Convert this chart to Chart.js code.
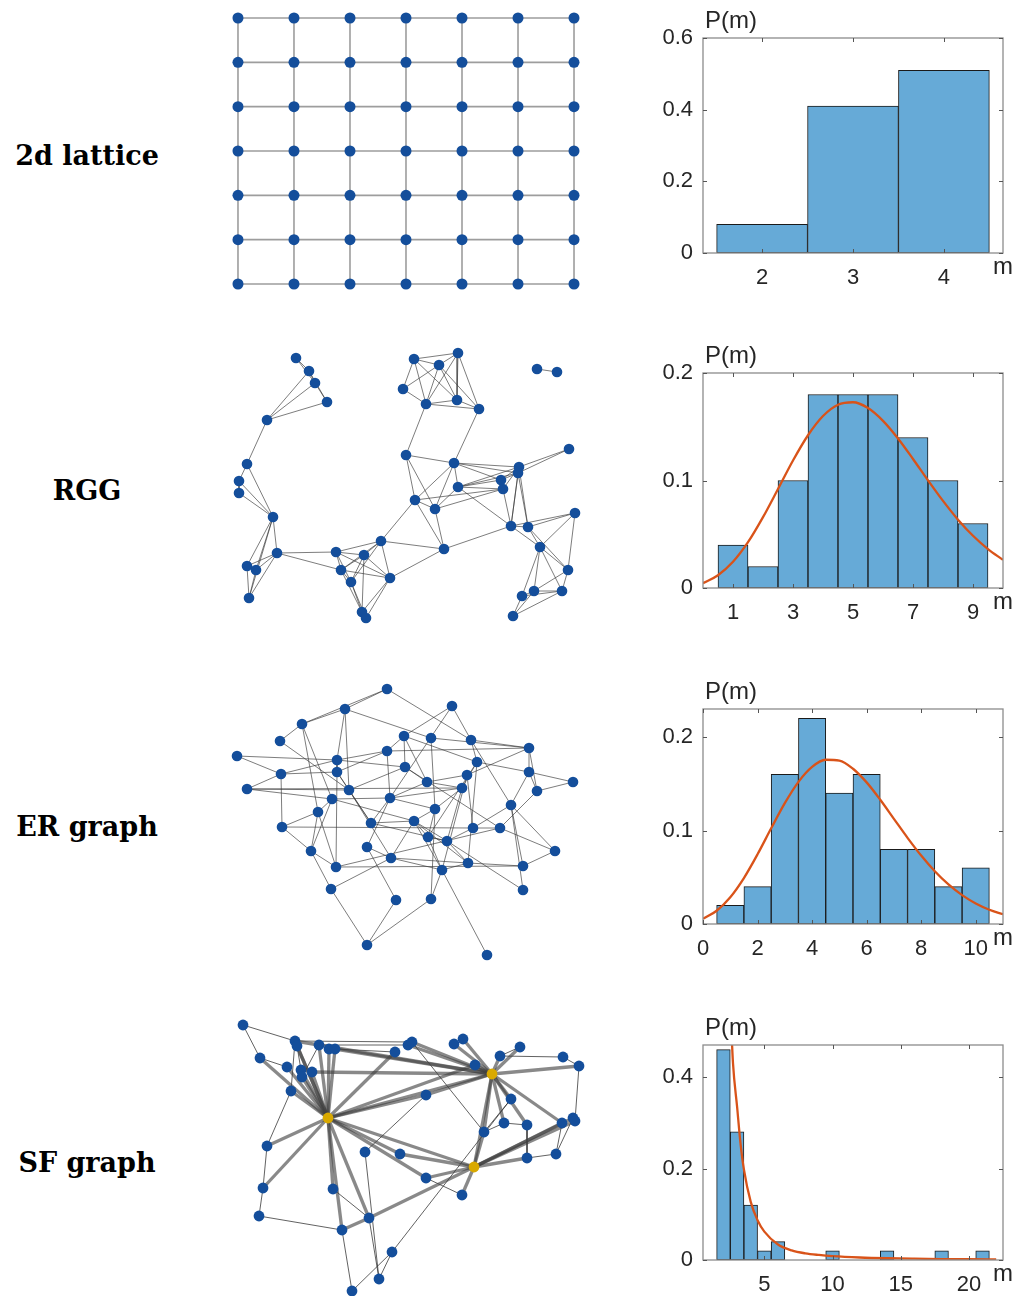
<!DOCTYPE html>
<html>
<head>
<meta charset="utf-8">
<script src="https://cdn.jsdelivr.net/npm/chart.js@4.4.1/dist/chart.umd.min.js"></script>
<style>
  html, body { margin: 0; padding: 0; background: #fff; width: 1019px; height: 1296px; overflow: hidden; position: relative; }
  canvas { position: absolute; }
  .lbl { position: absolute; font-family: "DejaVu Serif", serif; font-weight: bold; font-size: 27px; color: #000;
         white-space: nowrap; transform: translate(-50%, -50%); }
</style>
</head>
<body>
<div class="lbl" style="left:87px;top:155px">2d lattice</div>
<div class="lbl" style="left:87px;top:490px">RGG</div>
<div class="lbl" style="left:87px;top:826px">ER graph</div>
<div class="lbl" style="left:87px;top:1162px">SF graph</div>

<canvas id="netLattice" width="380" height="300" style="left:220px;top:0px"></canvas>
<canvas id="netRGG" width="380" height="300" style="left:220px;top:335px"></canvas>
<canvas id="netER" width="380" height="300" style="left:220px;top:670px"></canvas>
<canvas id="netSF" width="380" height="291" style="left:220px;top:1005px"></canvas>

<canvas id="histLattice" width="379" height="298" style="left:640px;top:0px"></canvas>
<canvas id="histRGG" width="379" height="298" style="left:640px;top:335px"></canvas>
<canvas id="histER" width="379" height="298" style="left:640px;top:671px"></canvas>
<canvas id="histSF" width="379" height="289" style="left:640px;top:1007px"></canvas>

<script>
// ---------- 2d lattice (7 x 7 grid) ----------
const latticeCols = [0, 1, 2, 3, 4, 5, 6];
const latticeRows = [0, 1, 2, 3, 4, 5, 6];

// ---------- random geometric graph: node layout and links ----------
const rggX = [76,89,95,107,47,27,19,19,53,57,27,36,29,116,144,161,121,131,170,142,146,224,194,219,238,183,206,237,259,317,337,186,234,238,195,215,299,298,281,283,349,291,308,355,320,348,342,314,302,293];
const rggY = [23,36,48,67,85,129,146,158,182,218,231,235,263,217,220,206,235,247,243,277,283,214,24,30,18,54,69,65,74,34,37,120,128,152,165,174,132,138,145,154,114,191,192,178,212,235,256,256,261,281];
const rggEdges = [[1,2],[1,3],[2,3],[2,4],[3,4],[5,2],[5,3],[5,4],[5,6],[6,7],[6,9],[7,9],[8,9],[7,8],
  [9,10],[9,11],[9,12],[9,13],[10,11],[10,12],[10,13],[11,12],[11,13],[12,13],[10,14],[10,17],
  [14,15],[14,16],[14,17],[14,18],[14,19],[15,16],[15,17],[15,18],[15,19],[15,20],[16,17],[16,18],[16,19],
  [17,18],[17,19],[17,20],[18,20],[18,21],[19,20],[19,21],[16,22],[16,35],[19,22],[22,36],[22,35],[22,42],
  [23,24],[23,25],[23,26],[23,27],[23,28],[24,25],[24,26],[24,27],[24,28],[24,29],[25,27],[25,28],[25,29],
  [26,27],[27,28],[27,29],[28,29],[27,32],[29,33],[30,31],
  [32,33],[32,35],[32,36],[33,34],[33,35],[33,36],[33,37],[33,38],[33,39],[34,36],[34,37],[34,38],[34,39],
  [34,40],[34,42],[35,36],[35,40],[36,40],[37,41],[38,41],[37,38],[37,39],[38,39],[39,40],[37,40],[37,42],
  [38,42],[40,42],[38,43],[37,43],[42,43],[42,44],[43,44],[42,45],[43,45],[43,46],[44,45],[44,46],[45,46],
  [45,47],[45,48],[45,49],[46,47],[46,48],[47,48],[47,49],[48,49],[48,50],[49,50],[47,50]];

// ---------- Erdos-Renyi graph ----------
const erX = [167,232,125,82,60,184,211,251,309,17,167,117,257,185,61,117,247,309,207,353,27,129,242,317,112,170,291,215,98,151,194,62,253,280,208,227,147,91,335,171,116,248,222,303,111,303,176,211,147,267];
const erY = [19,36,39,54,71,66,68,70,78,86,81,90,92,97,104,102,105,102,112,112,119,120,118,121,129,128,135,139,142,153,151,157,158,158,167,171,177,181,181,188,197,193,200,196,219,220,230,229,275,285];
const erEdges = [[1,3],[1,4],[1,8],[3,4],[3,7],[3,12],[4,5],[4,29],[4,25],[5,22],
  [2,6],[2,8],[2,26],[6,13],[6,11],[6,14],[7,28],[7,9],[8,9],[11,9],[8,13],[8,27],
  [10,12],[10,15],[11,12],[11,26],[11,16],[12,15],[12,14],[12,16],
  [13,18],[13,23],[13,35],[13,42],[14,19],[14,22],[15,16],[15,21],[15,32],
  [16,22],[16,41],[16,30],[17,9],[17,43],[17,33],[17,19],
  [18,24],[18,20],[18,27],[18,9],[19,23],[21,23],[21,25],[21,22],
  [22,30],[22,40],[23,26],[23,36],[23,28],[24,20],[24,9],[24,34],
  [25,29],[25,26],[25,31],[25,38],[26,28],[26,30],[26,37],[27,39],[27,46],[27,44],
  [28,31],[28,35],[28,48],[29,32],[29,38],[29,41],[30,31],[30,36],[31,35],[31,36],[31,43],[31,40],[31,42],
  [32,38],[32,33],[33,34],[33,36],[34,39],[34,41],[35,43],[35,36],[36,42],[36,46],[37,40],[37,47],[38,41],
  [38,45],[39,44],[40,42],[40,43],[41,44],[42,44],[42,43],[43,48],[43,50],[45,49],[47,49],[48,49],[45,40],
  [33,27],[3,22],[19,26],[14,34],[6,19]];

// ---------- scale-free graph ----------
const sfX = [23,40,75,77,99,109,115,67,81,92,82,71,108,175,188,192,234,243,255,272,280,300,343,359,206,291,284,307,264,342,353,355,336,307,254,180,145,47,206,242,43,113,149,39,122,172,159,132];
const sfY = [20,53,36,41,40,44,44,62,65,67,72,86,113,47,40,37,39,34,60,69,51,42,52,61,90,94,118,120,127,118,113,116,149,153,162,149,147,141,173,190,183,184,213,211,225,247,274,286];
const sfHubs = [13, 20, 35];
const sfStrongEdges = [[13,2],[13,3],[13,4],[13,5],[13,6],[13,7],[13,8],[13,9],[13,10],[13,11],[13,12],[13,14],
  [13,19],[13,20],[13,25],[13,35],[13,36],[13,38],[13,39],[13,41],[13,42],[13,43],[13,45],
  [20,3],[20,7],[20,10],[20,15],[20,16],[20,17],[20,18],[20,19],[20,21],[20,22],[20,24],[20,25],[20,26],
  [20,27],[20,28],[20,29],[20,30],[20,35],
  [35,29],[35,30],[35,31],[35,32],[35,34],[35,36],[35,39],[35,40],[35,43],[43,45]];
const sfWeakEdges = [[1,2],[1,3],[3,16],[5,15],[3,12],[5,11],[6,7],[7,14],[16,29],[21,23],[22,21],[23,24],
  [24,32],[26,46],[27,28],[28,34],[27,29],[30,33],[33,34],[25,37],[37,47],[39,40],[38,41],[41,44],[44,45],
  [45,48],[12,38],[42,43],[43,47],[46,48],[46,47],[26,29],[2,8],[4,9],[31,33]];

// ---------- degree distributions ----------
const latticeBins = [2, 3, 4];
const latticeP = [0.08, 0.41, 0.51];
const latticeXTicks = [2, 3, 4];
const latticeYTicks = [0, 0.2, 0.4, 0.6];

const rggBins = [1, 2, 3, 4, 5, 6, 7, 8, 9];
const rggP = [0.04, 0.02, 0.10, 0.18, 0.18, 0.18, 0.14, 0.10, 0.06];
const rggFitM = [0, 0.5, 1, 1.5, 2, 2.5, 3, 3.5, 4, 4.5, 5, 5.5, 6, 6.5, 7, 7.5, 8, 8.5, 9, 9.5, 10];
const rggFitP = [0.0045, 0.0119, 0.0244, 0.0426, 0.0659, 0.0921, 0.1186, 0.1421, 0.1600, 0.1705, 0.1728,
                 0.1674, 0.1555, 0.1391, 0.1200, 0.1001, 0.0810, 0.0636, 0.0486, 0.0362, 0.0262];
const rggXTicks = [1, 3, 5, 7, 9];
const rggYTicks = [0, 0.1, 0.2];

const erBins = [1, 2, 3, 4, 5, 6, 7, 8, 9, 10];
const erP = [0.02, 0.04, 0.16, 0.22, 0.14, 0.16, 0.08, 0.08, 0.04, 0.06];
const erFitM = [0, 0.5, 1, 1.5, 2, 2.5, 3, 3.5, 4, 4.5, 5, 5.5, 6, 6.5, 7, 7.5, 8, 8.5, 9, 9.5, 10, 10.5, 11];
const erFitP = [0.0055, 0.0142, 0.0287, 0.0492, 0.0746, 0.1024, 0.1293, 0.1521, 0.1681, 0.1757, 0.1748, 0.1661,
                0.1515, 0.1329, 0.1125, 0.0922, 0.0732, 0.0564, 0.0423, 0.0309, 0.0220, 0.0153, 0.0104];
const erXTicks = [0, 2, 4, 6, 8, 10];
const erYTicks = [0, 0.1, 0.2];

const sfBins = [2, 3, 4, 5, 6, 10, 14, 18, 21];
const sfP = [0.46, 0.28, 0.12, 0.02, 0.04, 0.02, 0.02, 0.02, 0.02];
const sfFitM = [2.5, 2.7, 3, 3.25, 3.5, 4, 4.5, 5, 6, 7, 8, 9, 10, 12, 14, 16, 18, 20, 22];
const sfFitP = [0.56, 0.43, 0.335, 0.255, 0.198, 0.127, 0.087, 0.062, 0.034, 0.021, 0.0145, 0.011, 0.0085,
                0.0055, 0.0038, 0.0028, 0.0021, 0.0016, 0.0012];
const sfXTicks = [5, 10, 15, 20];
const sfYTicks = [0, 0.2, 0.4];

// ---------- styles ----------
const NODE_BLUE = '#144e9b';
const HUB_GOLD = '#d9a900';
const BAR_FILL = '#66aad7';
const FIT_RED = '#d95319';
const AXIS_FONT = '"Liberation Sans", Arial, sans-serif';

Chart.defaults.animation = false;
Chart.defaults.responsive = false;
Chart.defaults.devicePixelRatio = 1;
Chart.defaults.events = [];
Chart.defaults.plugins.legend.display = false;
Chart.defaults.plugins.tooltip.enabled = false;

function edgeSets(X, Y, list, color, width) {
  return list.map(([a, b]) => ({
    data: [{ x: X[a - 1], y: Y[a - 1] }, { x: X[b - 1], y: Y[b - 1] }],
    showLine: true, borderColor: color, borderWidth: width, pointRadius: 0, order: 2, clip: false
  }));
}

function nodeSet(X, Y, colors, radius) {
  return {
    data: X.map((x, i) => ({ x, y: Y[i] })),
    showLine: false, pointRadius: radius, pointBackgroundColor: colors, pointBorderWidth: 0,
    pointBorderColor: 'rgba(0,0,0,0)', order: 0, clip: false
  };
}

function networkChart(id, datasets, xr, yr) {
  new Chart(document.getElementById(id), {
    type: 'scatter',
    data: { datasets },
    options: {
      layout: { padding: 0, autoPadding: false },
      scales: {
        x: { type: 'linear', display: false, min: xr[0], max: xr[1] },
        y: { type: 'linear', display: false, min: yr[0], max: yr[1], reverse: true }
      }
    }
  });
}

// lattice nodes and nearest-neighbour bonds
const latX = [], latY = [], latEdges = [];
latticeRows.forEach((r, ri) => latticeCols.forEach((c, ci) => {
  latX.push(c); latY.push(r);
  const k = latX.length;
  if (ci > 0) latEdges.push([k - 1, k]);
  if (ri > 0) latEdges.push([k - latticeCols.length, k]);
}));
networkChart('netLattice',
  [nodeSet(latX, latY, NODE_BLUE, 5.5), ...edgeSets(latX, latY, latEdges, '#9d9d9d', 1.6)],
  [-0.321, 6.464], [-0.406, 6.361]);

networkChart('netRGG',
  [nodeSet(rggX, rggY, NODE_BLUE, 5.3), ...edgeSets(rggX, rggY, rggEdges, 'rgba(55,55,55,0.65)', 1)],
  [0, 380], [0, 300]);

networkChart('netER',
  [nodeSet(erX, erY, NODE_BLUE, 5.3), ...edgeSets(erX, erY, erEdges, 'rgba(55,55,55,0.65)', 1)],
  [0, 380], [0, 300]);

const sfColors = sfX.map((_, i) => sfHubs.includes(i + 1) ? HUB_GOLD : NODE_BLUE);
networkChart('netSF',
  [nodeSet(sfX, sfY, sfColors, 5.4),
   ...edgeSets(sfX, sfY, sfStrongEdges, 'rgba(65,65,65,0.62)', 3.3),
   ...edgeSets(sfX, sfY, sfWeakEdges, 'rgba(45,45,45,0.75)', 1)],
  [0, 380], [0, 291]);

// box, inward ticks and axis names for the histograms
const histFrame = {
  id: 'histFrame',
  afterDatasetsDraw(chart) {
    const { ctx, chartArea: a, scales } = chart;
    ctx.save();
    ctx.strokeStyle = '#8c8c8c';
    ctx.lineWidth = 1.3;
    ctx.strokeRect(a.left, a.top, a.right - a.left, a.bottom - a.top);
    ctx.strokeStyle = '#555';
    ctx.lineWidth = 1;
    ctx.beginPath();
    scales.x.ticks.forEach(t => {
      const p = Math.round(scales.x.getPixelForValue(t.value)) + 0.5;
      ctx.moveTo(p, a.bottom); ctx.lineTo(p, a.bottom - 4);
      ctx.moveTo(p, a.top); ctx.lineTo(p, a.top + 4);
    });
    scales.y.ticks.forEach(t => {
      const p = Math.round(scales.y.getPixelForValue(t.value)) + 0.5;
      ctx.moveTo(a.left, p); ctx.lineTo(a.left + 4, p);
      ctx.moveTo(a.right, p); ctx.lineTo(a.right - 4, p);
    });
    ctx.stroke();
    ctx.fillStyle = '#262626';
    ctx.font = '24px ' + AXIS_FONT;
    ctx.textBaseline = 'alphabetic';
    ctx.textAlign = 'left';
    ctx.fillText('P(m)', a.left + 2, a.top - 10);
    ctx.textAlign = 'center';
    ctx.fillText('m', a.right, a.bottom + 21);
    ctx.restore();
  }
};

function histChart(id, bins, probs, fitM, fitP, xr, yr, xTicks, yTicks, axisH) {
  const datasets = [{
    type: 'bar',
    data: bins.map((m, i) => ({ x: m, y: probs[i] })),
    backgroundColor: BAR_FILL, borderColor: '#1a1a1a', borderWidth: 1, borderSkipped: false,
    barPercentage: 1, categoryPercentage: 1, order: 1
  }];
  if (fitM) {
    datasets.push({
      type: 'line',
      data: fitM.map((m, i) => ({ x: m, y: fitP[i] })),
      borderColor: FIT_RED, borderWidth: 2.3, pointRadius: 0, fill: false,
      cubicInterpolationMode: 'monotone', order: 0
    });
  }
  const tickFont = { family: AXIS_FONT, size: 22 };
  new Chart(document.getElementById(id), {
    type: 'bar',
    data: { datasets },
    plugins: [histFrame],
    options: {
      layout: { padding: { top: 38, right: 16, left: 0, bottom: 0 } },
      scales: {
        x: {
          type: 'linear', min: xr[0], max: xr[1], offset: false,
          grid: { display: false, drawTicks: false, offset: false }, border: { display: false },
          ticks: { font: tickFont, color: '#262626', padding: 12, maxRotation: 0, autoSkip: false,
                   callback: v => String(v) },
          afterBuildTicks: s => { s.ticks = xTicks.map(v => ({ value: v })); },
          afterFit: s => { s.height = axisH; }
        },
        y: {
          type: 'linear', min: yr[0], max: yr[1],
          grid: { display: false, drawTicks: false }, border: { display: false },
          ticks: { font: tickFont, color: '#262626', padding: 10, autoSkip: false,
                   callback: v => String(v) },
          afterBuildTicks: s => { s.ticks = yTicks.map(v => ({ value: v })); },
          afterFit: s => { s.width = 63; }
        }
      }
    }
  });
}

histChart('histLattice', latticeBins, latticeP, null, null, [1.35, 4.65], [0, 0.6], latticeXTicks, latticeYTicks, 45);
histChart('histRGG', rggBins, rggP, rggFitM, rggFitP, [0, 10], [0, 0.2], rggXTicks, rggYTicks, 45);
histChart('histER', erBins, erP, erFitM, erFitP, [0, 11], [0, 0.23], erXTicks, erYTicks, 45);
histChart('histSF', sfBins, sfP, sfFitM, sfFitP, [0.5, 22.5], [0, 0.47], sfXTicks, sfYTicks, 36);
</script>
</body>
</html>
